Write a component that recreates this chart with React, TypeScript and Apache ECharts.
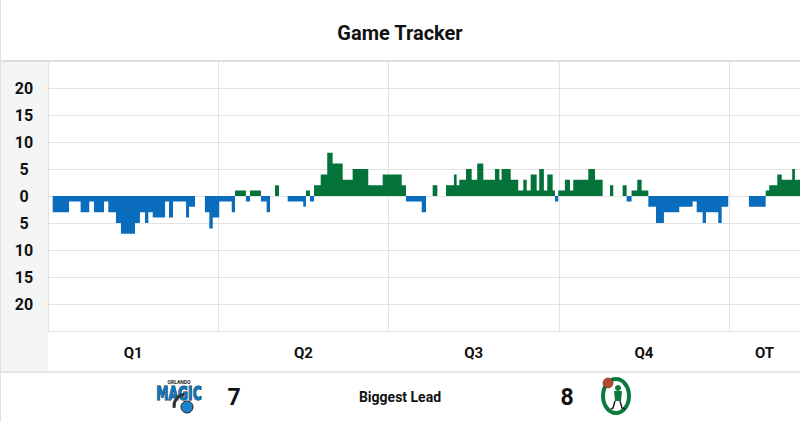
import React, { useEffect, useRef } from "react";
import * as echarts from "echarts";

const TITLE = "Game Tracker";
const FOOTER_LABEL = "Biggest Lead";
const ORLANDO_BIGGEST_LEAD = 7;
const BOSTON_BIGGEST_LEAD = 8;

const periodLabels = ["Q1", "Q2", "Q3", "Q4", "OT"];
const periodCenters = [6, 18, 30, 42, 50.5];
const GAME_MINUTES = 53;
const PERIOD_MINUTES = 12;

// lead changes: [elapsed minute, lead] (positive = Boston, negative = Orlando)
const q1: [number, number][] = [
  [0, 0], [0.33, -3], [1.48, -1], [2.3, -3], [2.91, -1], [3.24, -3], [3.95, -1], [4.25, -3],
  [4.79, -5], [5.14, -7], [6.13, -5], [6.48, -3], [6.84, -5], [7.07, -3], [7.38, -4], [8.25, -1],
  [8.53, -4], [8.81, -1], [9.73, -4], [9.94, -2], [10.36, 0], [11.06, -3], [11.37, -6], [11.61, -4],
];
const q2: [number, number][] = [
  [12.07, -1], [12.95, -3], [13.18, 1], [13.95, -1], [14.24, 1], [15.01, -1], [15.41, -3], [15.65, 0],
  [16.0, 2], [16.28, 0], [16.89, -1], [17.99, -2], [18.18, 1], [18.46, -1], [18.75, 2], [19.22, 4],
  [19.68, 8], [20.06, 6], [20.77, 3], [21.47, 5], [22.57, 2], [23.59, 4],
];
const q3: [number, number][] = [
  [24.93, 2], [25.23, -1], [26.34, -3], [26.64, 0], [27.11, 2], [27.44, 0], [28.05, 2], [28.61, 4],
  [28.8, 2], [28.99, 3], [29.46, 5], [29.86, 3], [30.25, 6], [30.68, 3], [31.5, 5], [31.81, 3],
  [31.97, 5], [32.61, 3], [33.14, 1], [33.5, 3], [33.74, 1], [34.02, 4], [34.44, 1], [34.62, 5],
  [34.95, 1], [35.19, 4], [35.57, 1], [35.73, -1], [35.96, 1],
];
const q4: [number, number][] = [
  [36.43, 3], [36.79, 1], [37.02, 3], [38.08, 5], [38.55, 3], [39.09, 0], [39.61, 2], [39.84, 0],
  [40.5, 2], [40.78, -1], [41.13, 1], [41.53, 3], [41.84, 1], [42.31, -2], [42.85, -5], [43.41, -3],
  [44.49, -2], [45.43, -1], [45.72, -3], [46.14, -5], [46.37, -3], [47.24, -5], [47.48, -2], [47.94, 0],
];
const ot: [number, number][] = [
  [49.4, -2], [50.58, 1], [50.83, 2], [51.4, 4], [51.71, 3], [52.45, 5], [52.64, 3], [53, 3],
];

const yTickValues = [-25, -20, -15, -10, -5, 0, 5, 10, 15, 20, 25];

const GREEN = "#03733a";
const BLUE = "#0a6cbd";
const GRID = "#e2e2e2";

export default function App() {
  const ref = useRef<HTMLDivElement>(null);

  useEffect(() => {
    document.body.style.margin = "0";
    if (!ref.current) return;
    const chart = echarts.init(ref.current, undefined, { renderer: "svg" });
    const timeline = [...q1, ...q2, ...q3, ...q4, ...ot];
    const bostonData = timeline.map(([t, v]) => [t, Math.max(v, 0)]);
    const orlandoData = timeline.map(([t, v]) => [t, Math.min(v, 0)]);
    const font = "Roboto, 'Noto Sans', sans-serif";
    const narrow = "'Liberation Sans Narrow', 'DejaVu Sans Condensed', sans-serif";

    chart.setOption({
      animation: false,
      backgroundColor: "#ffffff",
      title: {
        text: TITLE,
        left: "center",
        top: 18,
        textStyle: { fontFamily: font, fontSize: 20, fontWeight: "bold", color: "#111" },
      },
      grid: { left: 48, right: 0, top: 61, bottom: 91 },
      xAxis: [
        {
          type: "value",
          min: 0,
          max: GAME_MINUTES,
          interval: PERIOD_MINUTES,
          axisLine: { show: false },
          axisLabel: { show: false },
          axisTick: { show: true, length: 41, lineStyle: { color: GRID, width: 1 } },
          splitLine: { show: true, lineStyle: { color: GRID, width: 1 } },
        },
        {
          type: "value",
          min: 0,
          max: GAME_MINUTES,
          position: "bottom",
          offset: 0,
          axisLine: { show: false },
          axisTick: { show: false },
          splitLine: { show: false },
          axisLabel: {
            customValues: periodCenters,
            margin: 14,
            formatter: (v: number) => {
              const i = periodCenters.indexOf(v);
              return i >= 0 ? periodLabels[i] : "";
            },
            fontFamily: font,
            fontSize: 15,
            fontWeight: "bold",
            color: "#111",
          },
        },
      ],
      yAxis: {
        type: "value",
        min: yTickValues[0],
        max: yTickValues[yTickValues.length - 1],
        interval: 5,
        axisLine: { show: false },
        axisTick: { show: false },
        splitLine: { show: true, lineStyle: { color: GRID, width: 1 } },
        axisLabel: {
          margin: 24,
          align: "center",
          formatter: (v: number) => (Math.abs(v) >= 25 ? "" : String(Math.abs(v))),
          fontFamily: font,
          fontSize: 16,
          fontWeight: "bold",
          color: "#111",
        },
      },
      series: [
        {
          type: "line",
          name: "Boston",
          xAxisIndex: 0,
          step: "end",
          symbol: "none",
          silent: true,
          data: bostonData,
          lineStyle: { width: 0, color: GREEN },
          areaStyle: { color: GREEN, opacity: 1 },
        },
        {
          type: "line",
          name: "Orlando",
          xAxisIndex: 0,
          step: "end",
          symbol: "none",
          silent: true,
          data: orlandoData,
          lineStyle: { width: 0, color: BLUE },
          areaStyle: { color: BLUE, opacity: 1 },
        },
      ],
      graphic: [
        { type: "rect", z: -10, shape: { x: 0, y: 61, width: 48, height: 311 }, style: { fill: "#f5f5f5" } },
        { type: "line", z: 10, shape: { x1: 0, y1: 61, x2: 800, y2: 61 }, style: { stroke: "#dcdcdc", lineWidth: 2 } },
        { type: "line", z: 10, shape: { x1: 0, y1: 372, x2: 800, y2: 372 }, style: { stroke: "#e4e4e4", lineWidth: 2 } },
        { type: "line", z: 10, shape: { x1: 0.5, y1: 0, x2: 0.5, y2: 422 }, style: { stroke: "#e0e0e0", lineWidth: 1 } },
        // Orlando Magic logo (approximation)
        {
          type: "group",
          children: [
            { type: "text", x: 179, y: 379, style: { text: "ORLANDO", fontSize: 5, fontWeight: "bold", fontFamily: font, fill: "#222", align: "center" } },
            {
              type: "text",
              x: 179,
              y: 384,
              scaleX: 1.05,
              scaleY: 1.45,
              style: {
                text: "MAGIC",
                fontSize: 13,
                fontWeight: "bold",
                fontFamily: narrow,
                fill: "#0b78c2",
                stroke: "#1b1b1b",
                lineWidth: 0.7,
                align: "center",
              },
            },
            { type: "arc", shape: { cx: 186, cy: 406, r: 12, startAngle: Math.PI * 0.95, endAngle: Math.PI * 1.45 }, style: { stroke: "#333", lineWidth: 3, fill: "none" } },
            { type: "circle", shape: { cx: 187, cy: 407, r: 6 }, style: { fill: "#1c82cc", stroke: "#222", lineWidth: 1 } },
          ],
        },
        { type: "text", x: 234, y: 397, style: { text: String(ORLANDO_BIGGEST_LEAD), fontSize: 23, fontWeight: "bold", fontFamily: font, fill: "#111", align: "center", verticalAlign: "middle" } },
        { type: "text", x: 400, y: 397, style: { text: FOOTER_LABEL, fontSize: 14, fontWeight: "bold", fontFamily: font, fill: "#111", align: "center", verticalAlign: "middle" } },
        { type: "text", x: 567, y: 397, style: { text: String(BOSTON_BIGGEST_LEAD), fontSize: 23, fontWeight: "bold", fontFamily: font, fill: "#111", align: "center", verticalAlign: "middle" } },
        // Boston Celtics logo (approximation)
        {
          type: "group",
          children: [
            { type: "ellipse", shape: { cx: 616, cy: 396, rx: 13, ry: 17 }, style: { fill: "#ffffff", stroke: "#0b7a3b", lineWidth: 4 } },
            { type: "circle", shape: { cx: 618, cy: 388, r: 3 }, style: { fill: "#0b7a3b" } },
            { type: "polygon", shape: { points: [[614, 391], [622, 391], [621, 401], [615, 401]] }, style: { fill: "#0b7a3b" } },
            { type: "polyline", shape: { points: [[615, 401], [613, 408], [611, 409]] }, style: { stroke: "#222", lineWidth: 1.5, fill: "none" } },
            { type: "polyline", shape: { points: [[620, 401], [622, 408], [625, 409]] }, style: { stroke: "#222", lineWidth: 1.5, fill: "none" } },
            { type: "circle", shape: { cx: 608, cy: 383, r: 5 }, style: { fill: "#b24a2e", stroke: "#7a2a17", lineWidth: 0.6 } },
          ],
        },
      ],
    });

    return () => chart.dispose();
  }, []);

  return <div ref={ref} style={{ width: 800, height: 422 }} />;
}
